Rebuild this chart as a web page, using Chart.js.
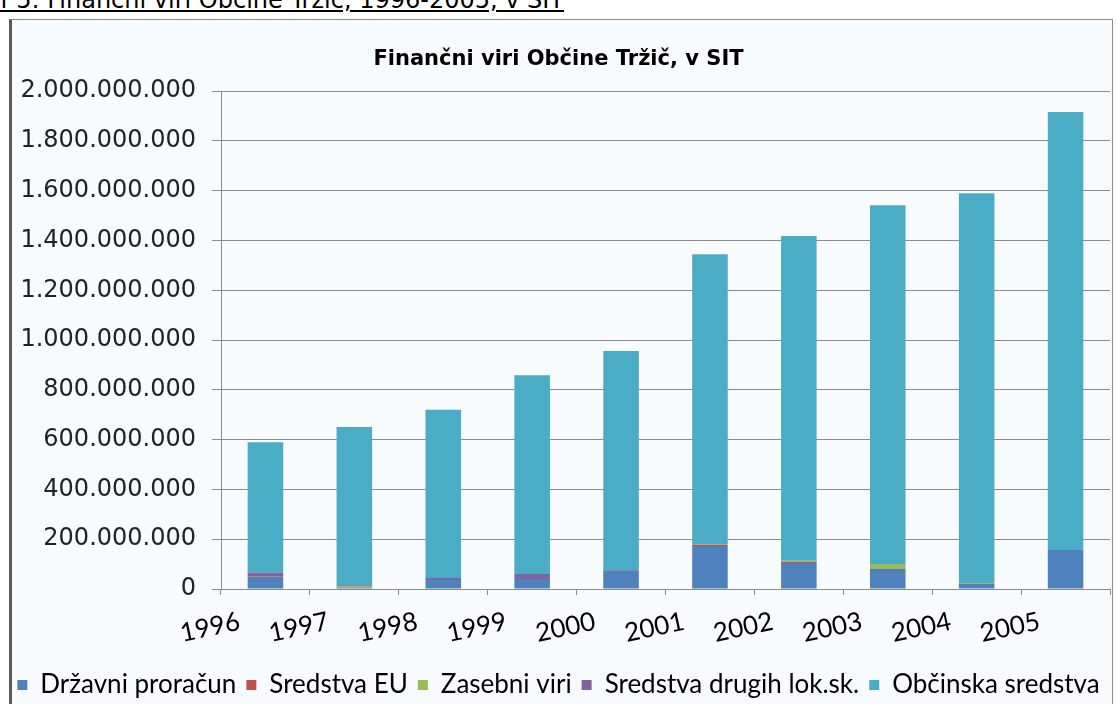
<!DOCTYPE html>
<html>
<head>
<meta charset="utf-8">
<script src="https://cdn.jsdelivr.net/npm/chart.js@4.4.1/dist/chart.umd.min.js"></script>
<style>
  html, body { margin: 0; padding: 0; background: #ffffff; overflow: hidden; }
  body { width: 1117px; height: 704px; position: relative; }
  .caption {
    position: absolute; left: -43px; top: -12px;
    font: 24px "DejaVu Sans", sans-serif; color: #000;
    text-decoration: underline; white-space: nowrap; line-height: 24px;
  }
  .frame {
    position: absolute; left: 9px; top: 19px; width: 1100px; height: 700px;
    background: #f8fbfe; border: 1px solid #8c8c8c; border-left: 3px solid #5a5a5a;
  }
  canvas { position: absolute; left: 0; top: 0; }
</style>
</head>
<body>
<div class="caption">Graf 5: Finančni viri Občine Tržič, 1996-2005, v SIT</div>
<div class="frame"></div>
<canvas id="chart" width="1117" height="708"></canvas>
<script>
// leta
const years = ['1996', '1997', '1998', '1999', '2000', '2001', '2002', '2003', '2004', '2005'];

// viri financiranja, v SIT
const drzavniProracun = [48e6, 6e6, 36e6, 40e6, 72e6, 173e6, 104e6, 80e6, 20e6, 157e6];
const sredstvaEU = [2e6, 0, 0, 0, 0, 5e6, 5e6, 0, 0, 0];
const zasebniViri = [0, 6e6, 0, 0, 0, 3e6, 5e6, 20e6, 4e6, 0];
const drugihLokSk = [16e6, 3e6, 8e6, 20e6, 3e6, 0, 0, 0, 0, 0];
const obcinskaSredstva = [524e6, 636e6, 676e6, 799e6, 881e6, 1164e6, 1304e6, 1442e6, 1566e6, 1759e6];

const yMax = 2e9;
const yStep = 2e8;

function fmt(v) {
    return String(Math.round(v)).replace(/\B(?=(\d{3})+(?!\d))/g, '.');
}

const ds = (label, data, color) => ({
    label, data, backgroundColor: color, borderWidth: 0,
    barPercentage: 0.4, categoryPercentage: 1
});

new Chart(document.getElementById('chart').getContext('2d'), {
    type: 'bar',
    data: {
        labels: years,
        datasets: [
            ds('Državni proračun', drzavniProracun, '#4f81bd'),
            ds('Sredstva EU', sredstvaEU, '#c0504d'),
            ds('Zasebni viri', zasebniViri, '#9bbb59'),
            ds('Sredstva drugih lok.sk.', drugihLokSk, '#8064a2'),
            ds('Občinska sredstva', obcinskaSredstva, '#4bacc6')
        ]
    },
    options: {
        responsive: false,
        animation: false,
        devicePixelRatio: 1,
        layout: { padding: 0 },
        plugins: {
            tooltip: { enabled: false },
            title: {
                display: true,
                text: 'Finančni viri Občine Tržič, v SIT',
                color: '#000',
                font: { family: '"DejaVu Sans", sans-serif', size: 21, weight: 'bold' },
                padding: { top: 47, bottom: 19 }
            },
            legend: {
                position: 'bottom',
                labels: {
                    color: '#000',
                    font: { family: 'Lato, sans-serif', size: 26 },
                    boxWidth: 10, boxHeight: 10, padding: 10
                }
            }
        },
        scales: {
            x: {
                stacked: true,
                offset: true,
                grid: { display: true, drawOnChartArea: false, offset: true, tickLength: 6, color: '#8c8c8c' },
                border: { color: '#8c8c8c' },
                ticks: {
                    color: '#000', minRotation: 12, maxRotation: 12, padding: 11, labelOffset: -26,
                    font: { family: 'Lato, sans-serif', size: 26 }
                },
                afterFit: s => { s.height = 73; }
            },
            y: {
                stacked: true,
                min: 0, max: yMax,
                grid: { color: '#8c8c8c', tickLength: 9 },
                border: { color: '#8c8c8c' },
                ticks: {
                    stepSize: yStep, color: '#222', padding: 16,
                    font: { family: '"DejaVu Sans", sans-serif', size: 24 },
                    callback: v => fmt(v)
                },
                afterFit: s => { s.width = 221; }
            },
            // prazen desni rob do okvirja
            yRight: {
                position: 'right',
                display: true,
                grid: { display: false },
                border: { display: false },
                ticks: { display: false },
                afterFit: s => { s.width = 7; }
            }
        }
    }
});
</script>
</body>
</html>
